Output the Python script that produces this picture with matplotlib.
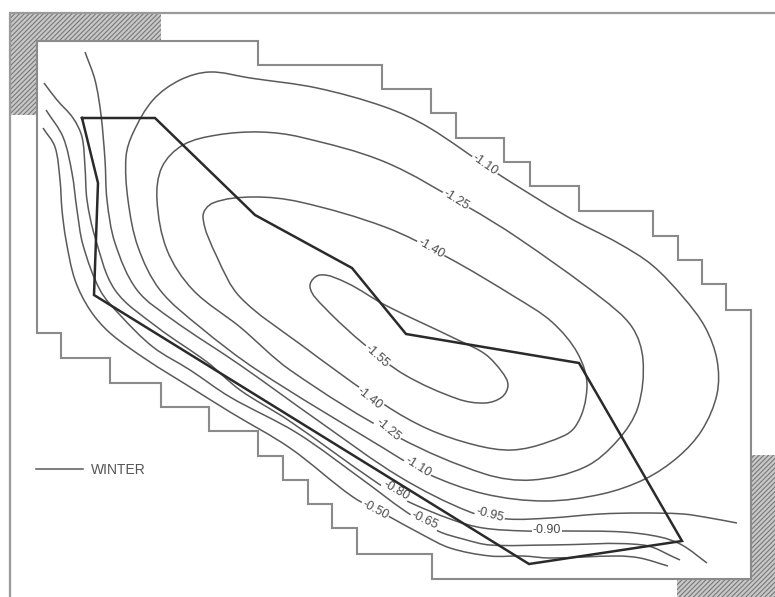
import math
import matplotlib
matplotlib.use("Agg")
import matplotlib.pyplot as plt
from matplotlib.path import Path
from matplotlib.patches import PathPatch, Polygon

plt.rcParams['font.family'] = ['Liberation Sans', 'DejaVu Sans']
plt.rcParams['hatch.linewidth'] = 0.8

grid_outline = [(37, 41), (258, 41), (258, 65), (382, 65), (382, 89), (431, 89), (431, 113), (456, 113),
                (456, 138), (504, 138), (504, 162), (530, 162), (530, 186), (579, 186), (579, 211), (653, 211),
                (653, 236), (678, 236), (678, 260), (702, 260), (702, 284), (726, 284), (726, 310), (751, 310),
                (751, 579), (432, 579), (432, 554), (357, 554), (357, 528), (332, 528), (332, 504), (308, 504),
                (308, 480), (283, 480), (283, 456), (258, 456), (258, 431), (209, 431), (209, 407), (161, 407),
                (161, 383), (110, 383), (110, 358), (61, 358), (61, 333), (37, 333), (37, 41)]
frame = [(775, 13), (10, 13), (10, 597)]
hatch_topleft = [(10, 13), (161, 13), (161, 41), (37, 41), (37, 115), (10, 115)]
hatch_botright = [(751, 455), (775, 455), (775, 597), (677, 597), (677, 579), (751, 579)]
boundary = [(82, 118), (155, 118), (255, 215), (352, 268), (406, 334), (579, 363),
            (682, 541), (529, 564), (94, 295), (98, 183), (82, 118)]

c155 = [(310, 287), (320, 275), (347, 283), (385, 305), (458, 340), (485, 354), (502, 372), (508, 385),
        (502, 397), (485, 403), (458, 399), (405, 375), (365, 345), (325, 308)]
c140 = [(203, 217), (213, 203), (253, 197), (300, 202), (385, 227), (447, 257), (515, 297), (552, 322),
        (578, 354), (587, 387), (575, 427), (548, 442), (512, 450), (475, 445), (428, 429), (385, 405),
        (300, 344), (240, 297), (217, 257)]
c125 = [(157, 200), (162, 167), (183, 145), (217, 135), (260, 132), (300, 137), (385, 162), (468, 207),
        (518, 238), (600, 297), (632, 327), (643, 360), (638, 407), (618, 440), (585, 467), (532, 480),
        (485, 474), (398, 437), (290, 370), (240, 327), (193, 290), (167, 250)]
c110 = [(126, 157), (133, 133), (153, 100), (180, 80), (210, 72), (250, 78), (317, 88), (385, 107),
        (428, 127), (495, 172), (568, 217), (618, 243), (652, 265), (683, 297),
        (705, 327), (717, 360), (717, 394), (702, 430), (678, 457), (645, 479), (602, 494), (545, 501),
        (485, 494), (428, 474), (385, 449), (257, 370), (200, 327), (160, 290), (138, 247), (128, 200)]
c095 = [(85, 52), (95, 80), (101, 115), (105, 160), (107, 200), (115, 243), (137, 290), (173, 320),
        (240, 365), (320, 422), (400, 477), (470, 512), (508, 519), (550, 518), (600, 514), (640, 513),
        (683, 514), (710, 518), (737, 523)]
c080 = [(44, 83), (57, 100), (73, 118), (82, 137), (85, 167), (87, 200), (95, 237), (115, 290),
        (157, 327), (207, 362), (240, 390), (288, 420), (373, 480), (405, 500), (453, 520), (483, 528),
        (525, 531), (565, 531), (623, 532), (660, 537), (682, 545), (707, 563)]
c065 = [(46, 110), (63, 137), (72, 173), (77, 210), (83, 245), (100, 290), (120, 315), (153, 347),
        (190, 370), (230, 397), (297, 433), (363, 480), (405, 511), (438, 531), (463, 539), (490, 545),
        (550, 545), (643, 545), (680, 560)]
c050 = [(43, 128), (55, 147), (60, 180), (62, 210), (66, 240), (75, 280), (90, 310), (110, 333),
        (147, 360), (190, 387), (230, 412), (290, 448), (353, 497), (390, 517), (423, 535), (450, 548),
        (490, 556), (523, 556), (550, 558), (617, 556), (640, 558), (668, 566)]
closed_contours = [c155, c140, c125, c110]
open_contours = [c095, c080, c065, c050]

label_text = ['-1.10', '-1.25', '-1.40', '-1.55', '-1.40', '-1.25', '-1.10',
              '-0.95', '-0.90', '-0.80', '-0.65', '-0.50']
label_xy = [(485, 165), (456, 200), (431, 248), (377, 356), (370, 398), (388, 430), (418, 467),
            (490, 515), (547, 530), (396, 490), (425, 520), (375, 510)]
label_rot = [-35, -32, -30, -42, -38, -40, -32, -15, 0, -30, -25, -28]

legend_line = [(36, 469), (83, 469)]
legend_text = 'WINTER'


def smooth_path(pts, closed=False):
    # bezier through the read points, tangent along the neighbours, handles scaled to segment length
    n = len(pts)

    def tangent(i):
        if closed:
            a, b = pts[(i - 1) % n], pts[(i + 1) % n]
        else:
            a, b = pts[max(i - 1, 0)], pts[min(i + 1, n - 1)]
        d = math.hypot(b[0] - a[0], b[1] - a[1])
        return (b[0] - a[0]) / d, (b[1] - a[1]) / d

    verts = [pts[0]]
    codes = [Path.MOVETO]
    for i in range(n if closed else n - 1):
        j = (i + 1) % n
        p1, p2 = pts[i], pts[j]
        h = math.hypot(p2[0] - p1[0], p2[1] - p1[1]) / 3
        t1, t2 = tangent(i), tangent(j)
        verts += [(p1[0] + t1[0] * h, p1[1] + t1[1] * h), (p2[0] - t2[0] * h, p2[1] - t2[1] * h), p2]
        codes += [Path.CURVE4] * 3
    return Path(verts, codes)


fig = plt.figure(figsize=(7.75, 5.97), dpi=100)
ax = fig.add_axes([0, 0, 1, 1])
ax.set_xlim(0, 775)
ax.set_ylim(597, 0)
ax.set_axis_off()

border_col = '#8a8a8a'
line_col = '#5a5a5a'

for poly in [hatch_topleft, hatch_botright]:
    ax.add_patch(Polygon(poly, closed=True, facecolor='#c8c8c8', edgecolor='#787878', hatch='///////',
                         linewidth=0, zorder=1))

ax.plot(*zip(*frame), color='#9a9a9a', lw=1.6, zorder=2, solid_joinstyle='miter')
ax.plot(*zip(*grid_outline), color=border_col, lw=1.5, zorder=2, solid_joinstyle='miter')

for c in closed_contours:
    ax.add_patch(PathPatch(smooth_path(c, closed=True), facecolor='none', edgecolor=line_col, lw=1.1, zorder=3))
for c in open_contours:
    ax.add_patch(PathPatch(smooth_path(c), facecolor='none', edgecolor=line_col, lw=1.1, zorder=3))

for txt, (x, y), rot in zip(label_text, label_xy, label_rot):
    ax.text(x, y, txt, rotation=rot, ha='center', va='center', fontsize=9, color='#4a4a4a', zorder=4,
            rotation_mode='anchor', bbox=dict(facecolor='white', edgecolor='none', pad=0.8))

ax.plot(*zip(*boundary), color='#2a2a2a', lw=1.8, zorder=5, solid_joinstyle='miter')

ax.plot(*zip(*legend_line), color=line_col, lw=1.1, zorder=3)
ax.text(91, 470, legend_text, ha='left', va='center', fontsize=10, color='#555555')

fig.savefig('out.png', dpi=100)
